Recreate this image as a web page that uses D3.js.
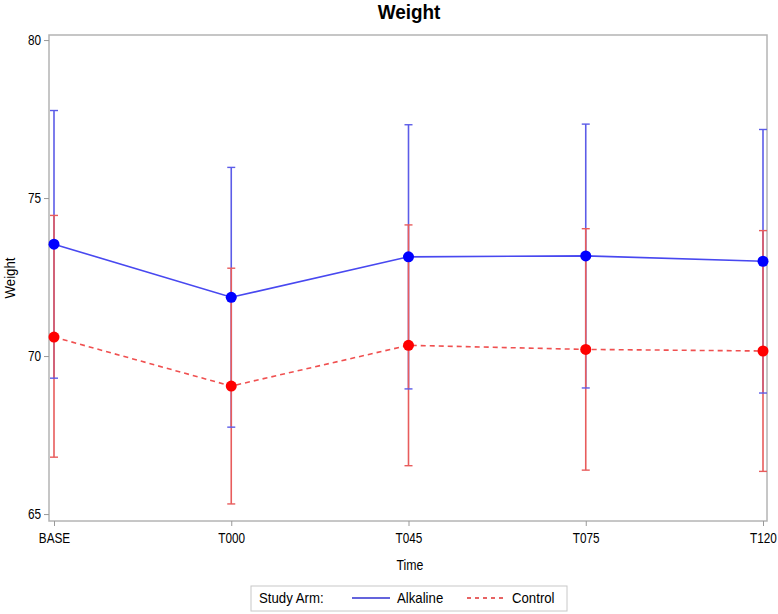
<!DOCTYPE html>
<html lang="en">
<head>
<meta charset="utf-8">
<style>
  body { margin: 0; background: #fff; }
  svg text { font-family: "Liberation Sans Narrow", "Liberation Sans", Arial, sans-serif; fill: #000; }
</style>
<script src="https://cdn.jsdelivr.net/npm/d3@7"></script>
</head>
<body>
<script>
  // values (mean and error bar ends)
  const times = ["BASE", "T000", "T045", "T075", "T120"];
  const alkMean  = [73.54, 71.86, 73.14, 73.17, 73.00];
  const alkUpper = [77.77, 75.97, 77.32, 77.34, 77.17];
  const alkLower = [69.30, 67.75, 68.96, 68.99, 68.83];
  const ctlMean  = [70.60, 69.05, 70.34, 70.21, 70.16];
  const ctlUpper = [74.45, 72.78, 74.15, 74.03, 73.97];
  const ctlLower = [66.80, 65.32, 66.53, 66.39, 66.35];
  const yTicks = [65, 70, 75, 80];

  const w = 778, h = 614;
  const padL = 49, padR = 767, padT = 35, padB = 521;

  // squeeze text horizontally, the reference uses a narrow face
  function condense(sel, k) {
    sel.each(function() {
      const len = this.getComputedTextLength();
      d3.select(this).attr("textLength", len * k).attr("lengthAdjust", "spacingAndGlyphs");
    });
  }

  const svg = d3.select("body").append("svg")
      .attr("width", w)
      .attr("height", h);

  const x = d3.scalePoint().domain(times).range([54, 763]);
  const y = d3.scaleLinear().domain([64.78, 80.16]).range([padB, padT]);

  // frame
  svg.append("rect")
      .attr("x", padL).attr("y", padT)
      .attr("width", padR - padL).attr("height", padB - padT)
      .attr("fill", "none").attr("stroke", "#b4b4b4").attr("stroke-width", 1.5);

  // axes
  const yAxis = d3.axisLeft(y).tickValues(yTicks).tickSize(5).tickPadding(3);
  const gy = svg.append("g").attr("transform", "translate(" + padL + ",0)").call(yAxis);
  const xAxis = d3.axisBottom(x).tickSize(5).tickPadding(7);
  const gx = svg.append("g").attr("transform", "translate(0," + padB + ")").call(xAxis);
  [gy, gx].forEach(g => {
    g.select(".domain").remove();
    g.selectAll(".tick line").attr("stroke", "#999");
    g.selectAll(".tick text").attr("font-size", "14px").call(condense, 0.84);
  });

  const series = [
    {name: "Alkaline", mean: alkMean, lo: alkLower, hi: alkUpper, line: "#4848f0", bar: "#5c5ce8", dot: "#0000ff", dash: null},
    {name: "Control", mean: ctlMean, lo: ctlLower, hi: ctlUpper, line: "#f05050", bar: "#e85c5c", dot: "#ff0000", dash: "5,4"}
  ];

  // error bar stems
  series.forEach(s => {
    svg.append("g").selectAll("line")
        .data(times)
        .enter().append("line")
        .attr("x1", d => x(d)).attr("x2", d => x(d))
        .attr("y1", (d, i) => y(s.hi[i]))
        .attr("y2", (d, i) => y(s.lo[i]))
        .attr("stroke", s.bar).attr("stroke-width", 1.6);
  });
  // caps
  series.forEach(s => {
    const caps = svg.append("g");
    [s.hi, s.lo].forEach(arr => {
      caps.selectAll(null)
          .data(times)
          .enter().append("line")
          .attr("x1", d => x(d) - 4).attr("x2", d => x(d) + 4)
          .attr("y1", (d, i) => y(arr[i]))
          .attr("y2", (d, i) => y(arr[i]))
          .attr("stroke", s.bar).attr("stroke-width", 1.4);
    });
  });

  // mean lines and markers
  series.forEach(s => {
    const line = d3.line().x((d, i) => x(times[i])).y(d => y(d));
    svg.append("path")
        .datum(s.mean)
        .attr("d", line)
        .attr("fill", "none")
        .attr("stroke", s.line).attr("stroke-width", 1.6)
        .attr("stroke-dasharray", s.dash);
  });
  series.forEach(s => {
    svg.append("g").selectAll("circle")
        .data(s.mean)
        .enter().append("circle")
        .attr("cx", (d, i) => x(times[i]))
        .attr("cy", d => y(d))
        .attr("r", 5.5)
        .attr("fill", s.dot);
  });

  // title and axis labels
  svg.append("text")
      .attr("x", 409).attr("y", 19)
      .attr("text-anchor", "middle")
      .attr("font-size", "21px").attr("font-weight", "bold")
      .text("Weight")
      .call(condense, 0.9);

  svg.append("text")
      .attr("x", 410).attr("y", 570)
      .attr("text-anchor", "middle")
      .attr("font-size", "14px")
      .text("Time")
      .call(condense, 0.88);

  svg.append("text")
      .attr("transform", "translate(15," + ((padT + padB) / 2) + ") rotate(-90)")
      .attr("text-anchor", "middle")
      .attr("font-size", "15px")
      .text("Weight")
      .call(condense, 0.88);

  // legend
  const lg = svg.append("g");
  lg.append("rect")
      .attr("x", 251).attr("y", 586).attr("width", 316).attr("height", 25)
      .attr("fill", "#fff").attr("stroke", "#c8c8c8");
  lg.append("text").attr("x", 259).attr("y", 603).attr("font-size", "15px").text("Study Arm:").call(condense, 0.88);
  lg.append("line").attr("x1", 352).attr("x2", 390).attr("y1", 598).attr("y2", 598)
      .attr("stroke", "#3030d0").attr("stroke-width", 1.5);
  lg.append("text").attr("x", 397).attr("y", 603).attr("font-size", "15px").text("Alkaline").call(condense, 0.88);
  lg.append("line").attr("x1", 467).attr("x2", 505).attr("y1", 598).attr("y2", 598)
      .attr("stroke", "#e03030").attr("stroke-width", 1.5).attr("stroke-dasharray", "4,4");
  lg.append("text").attr("x", 512).attr("y", 603).attr("font-size", "15px").text("Control").call(condense, 0.88);
</script>
</body>
</html>
